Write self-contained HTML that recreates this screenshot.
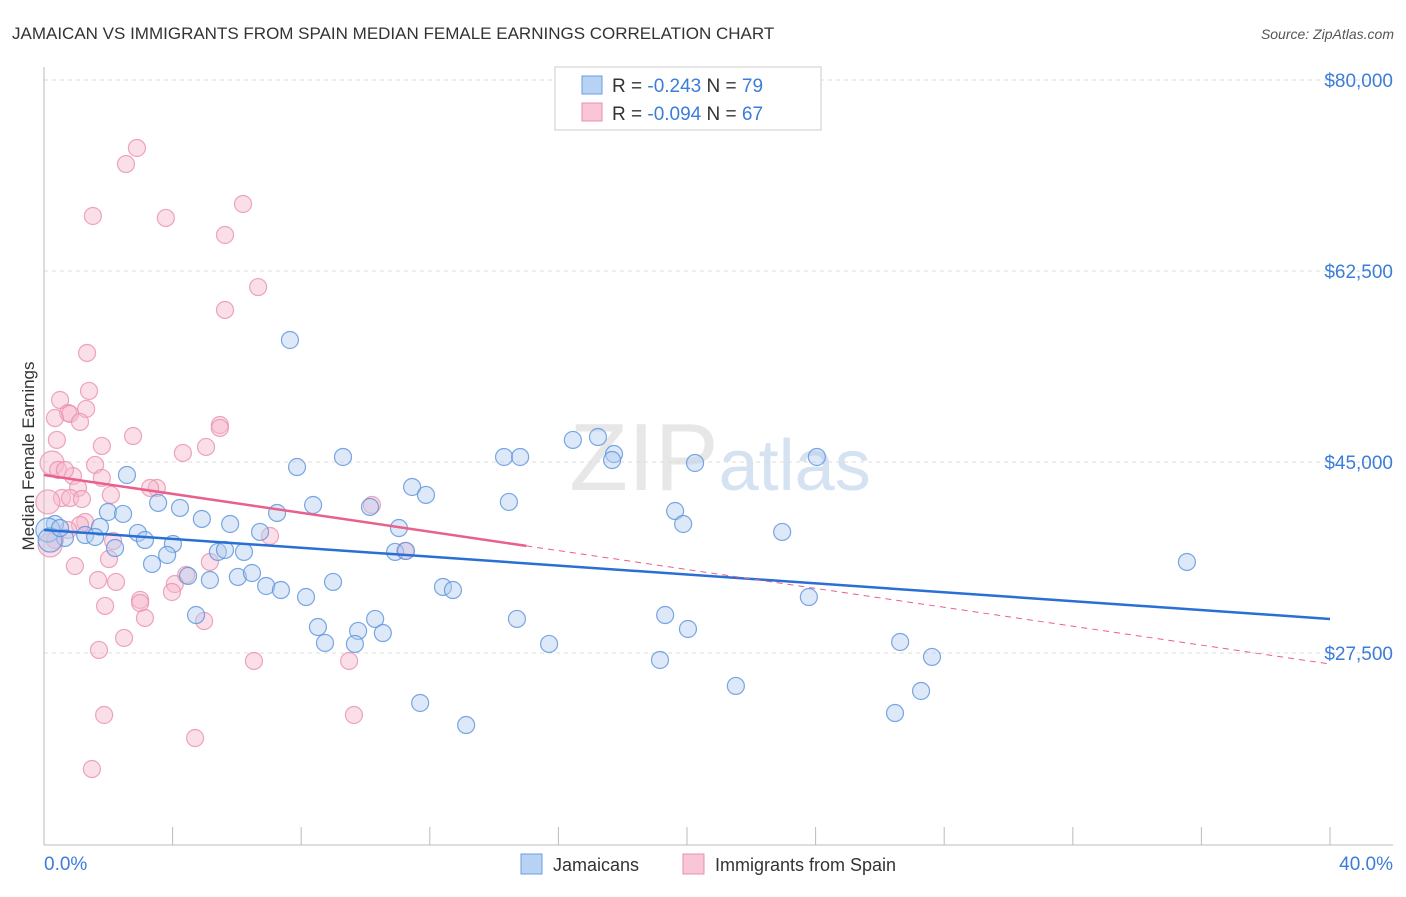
<!DOCTYPE html>
<html><head><meta charset="utf-8"><style>
body{margin:0;background:#fff;font-family:"Liberation Sans",sans-serif}
svg text{font-family:"Liberation Sans",sans-serif}
</style></head><body>
<svg id="chart" width="1406" height="892" xmlns="http://www.w3.org/2000/svg">
<text x="12" y="39" font-size="17" fill="#333">JAMAICAN VS IMMIGRANTS FROM SPAIN MEDIAN FEMALE EARNINGS CORRELATION CHART</text>
<text x="1394" y="39" font-size="14" fill="#555" text-anchor="end" font-style="italic">Source: ZipAtlas.com</text>
<text x="720" y="490" font-size="96" fill="#d8d8d8" text-anchor="middle" font-family="Liberation Serif" opacity="0.6">ZIP<tspan fill="#b8cfe8" font-family="Liberation Sans" font-size="72">atlas</tspan></text>
<g id="grid"></g>
<g id="axes"></g>
<g id="pts"></g>
<g id="trends"></g>
<text transform="translate(34,456) rotate(-90)" font-size="17" fill="#333" text-anchor="middle">Median Female Earnings</text>
<g>
<rect x="555" y="67" width="266" height="63" fill="#fff" stroke="#ccc"/>
<rect x="582" y="76" width="20" height="18" fill="#b8d2f3" stroke="#6a9de0"/>
<rect x="582" y="103" width="20" height="18" fill="#f9c6d6" stroke="#ec8fb0"/>
<text x="612" y="92" font-size="19" fill="#333">R = <tspan fill="#3b7dd8">-0.243</tspan>   N = <tspan fill="#3b7dd8">79</tspan></text>
<text x="612" y="120" font-size="19" fill="#333">R = <tspan fill="#3b7dd8">-0.094</tspan>   N = <tspan fill="#3b7dd8">67</tspan></text>
</g>
<g>
<rect x="521" y="854" width="21" height="20" fill="#b8d2f3" stroke="#6a9de0"/>
<text x="553" y="871" font-size="18" fill="#333">Jamaicans</text>
<rect x="683" y="854" width="21" height="20" fill="#f9c6d6" stroke="#ec8fb0"/>
<text x="715" y="871" font-size="18" fill="#333">Immigrants from Spain</text>
</g>
</svg>
<script>
const blueX=[7.65,2.58,7.87,9.30,11.45,11.88,14.31,14.81,16.45,17.23,17.73,17.67,20.25,24.04,14.46,19.63,19.88,22.96,35.55,8.37,7.25,10.14,11.04,1.99,2.46,3.55,4.23,4.91,5.79,6.72,1.74,0.34,0.65,1.28,1.59,2.92,3.14,4.01,5.41,5.63,6.22,10.92,11.26,2.21,3.36,3.83,4.48,5.16,6.03,6.47,6.91,7.37,8.15,8.99,12.41,12.72,4.73,8.52,8.74,9.77,10.30,10.54,9.67,14.71,15.71,19.32,20.03,23.79,19.16,26.63,27.62,21.52,27.28,26.47,11.70,13.13,0.12,0.19,0.50];
const blueY=[56180,43810,44540,45460,42710,41980,45460,45460,47020,47290,45730,45180,44910,45460,41340,40510,39320,38590,35840,41060,40330,40880,38950,40420,40240,41250,40790,39780,39320,38590,39050,39320,38040,38310,38130,38500,37850,37490,36760,36940,36760,36760,36850,37120,35660,36480,34560,34190,34470,34830,33640,33270,32630,34010,33550,33270,30980,29880,28420,29520,30620,29330,28330,30620,28330,30980,29700,32630,26860,28510,27140,24480,24020,22000,22920,20900,38770,37850,38950];
const pinkX=[2.89,2.55,1.52,3.79,6.19,5.63,6.66,5.63,1.34,1.40,0.50,1.31,0.75,0.81,1.12,0.34,2.77,1.80,5.47,5.47,5.04,4.32,0.25,0.44,1.59,0.90,1.80,3.51,3.30,1.06,0.56,0.81,1.18,2.08,0.12,10.20,1.28,2.15,7.03,2.02,0.96,5.16,1.68,2.24,4.42,4.07,3.98,2.99,1.90,2.99,3.14,4.98,2.49,1.71,6.53,9.49,1.87,9.64,4.70,1.49,0.34,0.19,11.23,0.65,0.40,1.12,0.75];
const pinkY=[73770,72300,67540,67360,68640,65800,61030,58930,54990,51510,50680,49860,49490,49400,48670,49030,47380,46470,48390,48120,46380,45830,44910,44270,44730,43720,43540,42620,42620,42620,41700,41700,41610,41980,41340,41060,39500,37760,38220,36110,35470,35840,34190,34010,34650,33820,33090,32360,31810,32080,30710,30430,28880,27780,26770,26770,21820,21820,19710,16870,37850,37400,36850,44270,47020,39230,38770];
const yTicks=[80000,62500,45000,27500];
const yTickLabels=["$80,000","$62,500","$45,000","$27,500"];
const blueTrend=[38770,30620];
const pinkTrend=[43810,26490];
const pinkSolidEnd=15;
const NS="http://www.w3.org/2000/svg";
const X0=44,X1=1330,Y80=80,PXPER=191/17500;
const sx=v=>X0+(X1-X0)*v/40;
const sy=v=>Y80+(80000-v)*PXPER;
function el(tag,attrs,parent){const e=document.createElementNS(NS,tag);for(const k in attrs)e.setAttribute(k,attrs[k]);parent.appendChild(e);return e;}
const grid=document.getElementById('grid'),axes=document.getElementById('axes'),pts=document.getElementById('pts'),tr=document.getElementById('trends');
yTicks.forEach((t,i)=>{
 const l=el('line',{x1:44,x2:1393,y1:sy(t),y2:sy(t),stroke:'#ddd','stroke-dasharray':'4,4'},grid);
 
 
 const tx=el('text',{x:1393,y:sy(t)+7,'font-size':19,fill:'#3b7dd8','text-anchor':'end'},axes);
 tx.textContent=yTickLabels[i];
 
 
});
const ax=el('line',{x1:44,x2:44,y1:67,y2:845,stroke:'#bbb'},axes);


const bx=el('line',{x1:44,x2:1393,y1:845,y2:845,stroke:'#bbb'},axes);


for(let i=1;i<=10;i++){const t=el('line',{x1:sx(i*4),x2:sx(i*4),y1:827,y2:845,stroke:'#bbb'},axes);
 
 }
const xl=el('text',{x:44,y:870,'font-size':19,fill:'#3b7dd8'},axes);xl.textContent='0.0%';


const xr=el('text',{x:1393,y:870,'font-size':19,fill:'#3b7dd8','text-anchor':'end'},axes);xr.textContent='40.0%';


function dots(xs,ys,fill,stroke,name){xs.forEach((x,i)=>{
 const big=x<0.3;
 const c=el('circle',{cx:sx(x),cy:sy(ys[i]),r:big?12:8.5,fill:fill,'fill-opacity':0.45,stroke:stroke,'stroke-width':1.2,'stroke-opacity':0.8},pts);
 
 
});}
dots(pinkX,pinkY,'#f7b8cc','#e890ae','spain-point');
dots(blueX,blueY,'#b3cdf0','#5a92dc','jamaican-point');
const b=el('line',{x1:sx(0),y1:sy(blueTrend[0]),x2:sx(40),y2:sy(blueTrend[1]),stroke:'#2a6fd4','stroke-width':2.5},tr);


const pAt=x=>pinkTrend[0]+(pinkTrend[1]-pinkTrend[0])*x/40;
const p=el('line',{x1:sx(0),y1:sy(pAt(0)),x2:sx(pinkSolidEnd),y2:sy(pAt(pinkSolidEnd)),stroke:'#e8608c','stroke-width':2.5},tr);


const pd=el('line',{x1:sx(pinkSolidEnd),y1:sy(pAt(pinkSolidEnd)),x2:sx(40),y2:sy(pAt(40)),stroke:'#e8608c','stroke-width':1,'stroke-dasharray':'6,5'},tr);


</script>
</body></html>
